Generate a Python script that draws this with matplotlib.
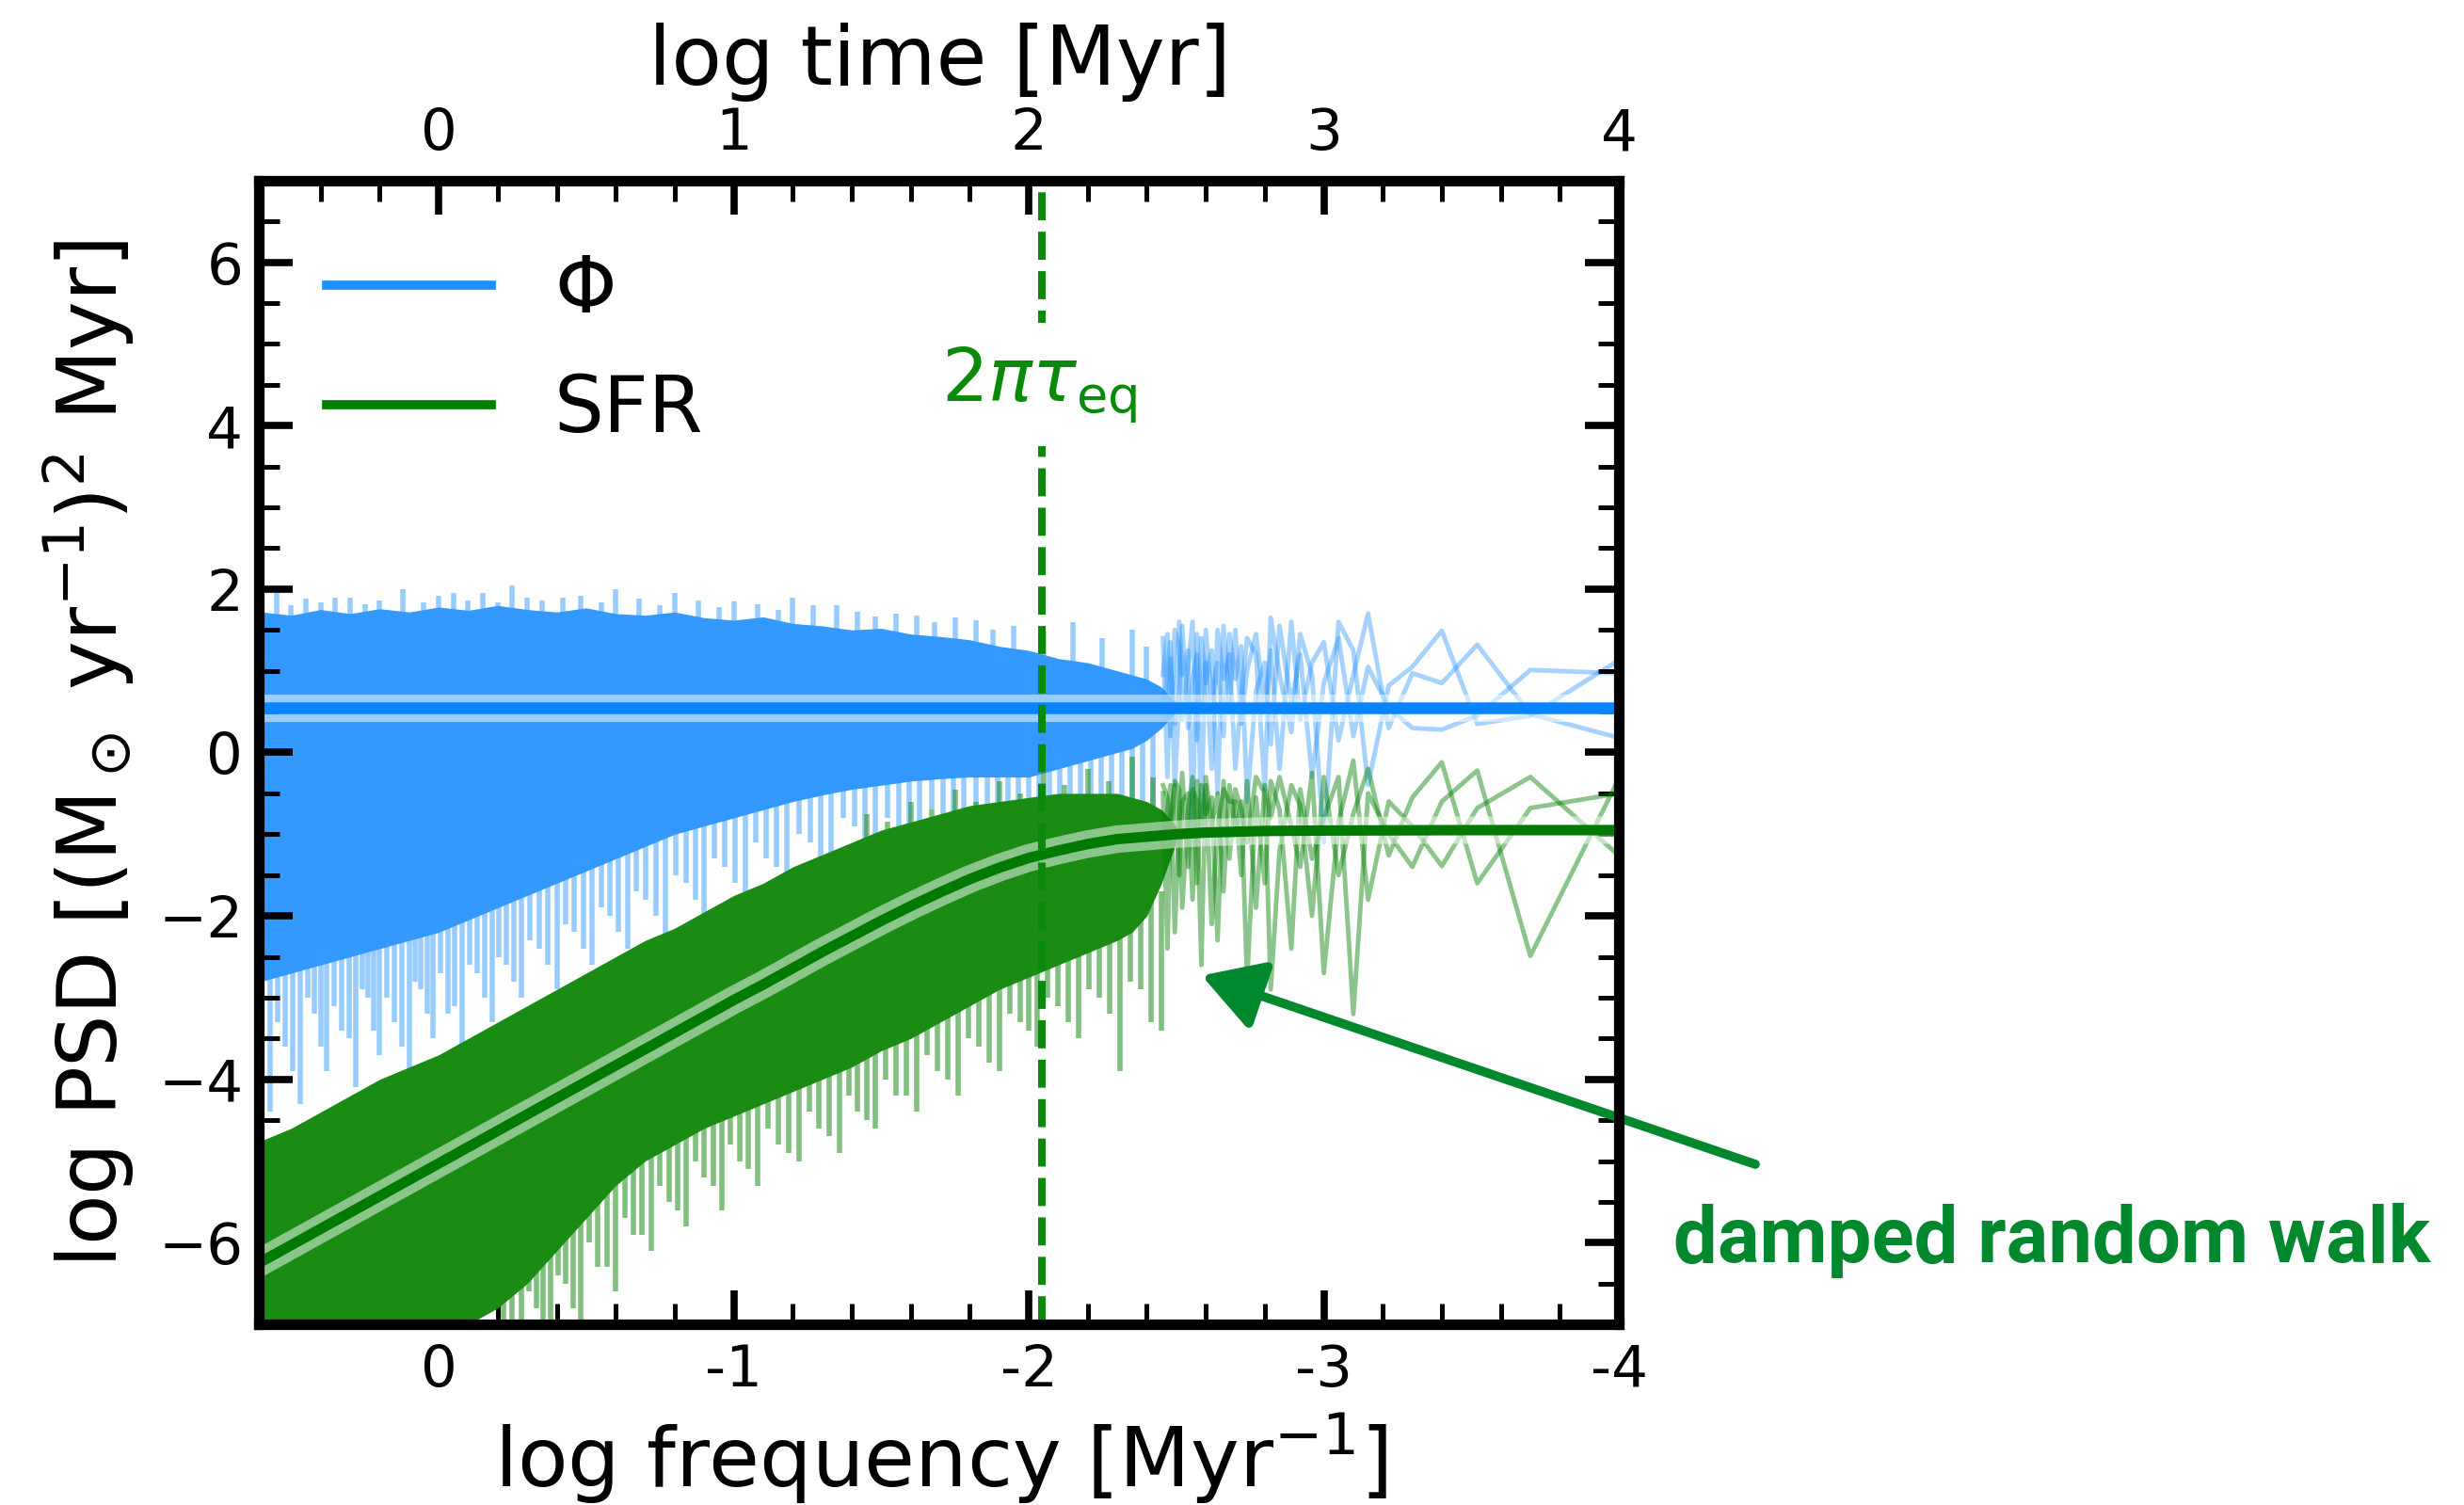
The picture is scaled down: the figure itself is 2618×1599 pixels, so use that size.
import numpy as np
import matplotlib.pyplot as plt
from matplotlib.ticker import MultipleLocator

# ---- data ----
# dense part of the periodograms: envelope of the many overlapping lines
env_x = [0.6, 0.5, 0.4, 0.3, 0.2, 0.1, 0.0, -0.1, -0.2, -0.3, -0.4, -0.5, -0.6, -0.7, -0.8, -0.9,
         -1.0, -1.1, -1.2, -1.3, -1.4, -1.5, -1.6, -1.7, -1.8, -1.9, -2.0, -2.1, -2.2, -2.3, -2.35,
         -2.4, -2.45, -2.5]
phi_top = [1.72, 1.68, 1.75, 1.70, 1.76, 1.72, 1.78, 1.74, 1.80, 1.75, 1.72, 1.77, 1.70, 1.68, 1.72, 1.65,
           1.62, 1.66, 1.58, 1.55, 1.50, 1.52, 1.45, 1.42, 1.38, 1.30, 1.25, 1.15, 1.10, 1.00, 0.95,
           0.90, 0.80, 0.60]
phi_low = [-2.8, -2.7, -2.6, -2.5, -2.4, -2.3, -2.2, -2.05, -1.9, -1.75, -1.6, -1.45, -1.3, -1.15, -1.0, -0.9,
           -0.8, -0.7, -0.6, -0.52, -0.45, -0.4, -0.35, -0.32, -0.3, -0.3, -0.3, -0.2, -0.1, 0.0, 0.05,
           0.15, 0.30, 0.50]
sfr_top = [-4.75, -4.6, -4.4, -4.2, -4.0, -3.85, -3.7, -3.5, -3.3, -3.1, -2.9, -2.7, -2.5, -2.3, -2.15, -1.95,
           -1.75, -1.6, -1.4, -1.25, -1.1, -0.95, -0.85, -0.75, -0.65, -0.6, -0.55, -0.5, -0.5, -0.5, -0.55,
           -0.6, -0.7, -0.9]
sfr_low = [-7.5, -7.5, -7.5, -7.4, -7.4, -7.3, -7.2, -7.0, -6.8, -6.5, -6.1, -5.7, -5.3, -5.0, -4.8, -4.6,
           -4.45, -4.3, -4.15, -4.0, -3.85, -3.65, -3.5, -3.3, -3.1, -2.9, -2.75, -2.6, -2.45, -2.3, -2.2,
           -2.0, -1.6, -1.1]

# downward spikes of the Phi periodogram (x, lowest value)
phi_spike_x = [0.57, 0.52, 0.47, 0.42, 0.38, 0.33, 0.28, 0.24, 0.20, 0.15, 0.10, 0.06, 0.02, -0.03, -0.08,
               -0.13, -0.18, -0.23, -0.28, -0.34, -0.40, -0.46, -0.52, -0.58, -0.64, -0.70, -0.77, -0.84,
               -0.90, -0.97, -1.04, -1.11, -1.18, -1.26, -1.33, -1.41, -1.48, -1.56, -1.63, -1.71, -1.78,
               -1.86, -1.93, -2.00, -2.07, -2.14, -2.21, -2.28, -2.35, -2.42,
               0.545, 0.495, 0.445, 0.40, 0.355, 0.305, 0.26, 0.22, 0.175, 0.125, 0.08, 0.04, -0.005,
               -0.055, -0.105, -0.155, -0.205, -0.255, -0.31, -0.37, -0.43, -0.49, -0.55, -0.61, -0.67,
               -0.735, -0.805, -0.87, -0.935, -1.005, -1.075, -1.145, -1.22, -1.295, -1.37, -1.445,
               -1.52, -1.595, -1.67, -1.745, -1.82, -1.895, -1.965, -2.035, -2.105, -2.175, -2.245,
               -2.315, -2.385]
phi_spike_lo = [-4.4, -3.6, -4.3, -3.2, -3.9, -3.4, -4.1, -3.0, -3.7, -3.3, -3.9, -2.9, -3.5, -3.2, -3.7,
                -2.7, -3.3, -2.6, -3.0, -2.4, -2.9, -2.2, -2.6, -2.0, -2.4, -1.8, -2.3, -1.6,
                -2.0, -1.4, -1.8, -1.3, -1.6, -1.1, -1.5, -0.9, -1.3, -0.9, -1.2, -0.8, -1.3,
                -0.9, -1.4, -1.0, -1.7, -1.1, -1.5, -0.9, -2.0, -1.0,
                -3.3, -3.9, -3.0, -3.6, -3.1, -3.5, -2.9, -3.4, -3.0, -3.6, -2.8, -3.2, -2.7,
                -3.1, -2.6, -3.0, -2.5, -2.8, -2.3, -2.6, -2.1, -2.4, -1.9, -2.2, -1.7,
                -2.0, -1.5, -1.8, -1.3, -1.6, -1.1, -1.4, -1.0, -1.3, -0.8, -1.1,
                -0.8, -1.0, -0.7, -1.1, -0.75, -1.2, -0.9, -1.3, -0.9, -1.4, -0.8,
                -1.6, -0.9]
# upward spikes of the Phi periodogram (x, highest value)
phi_up_x = [0.60, 0.55, 0.50, 0.45, 0.40, 0.35, 0.30, 0.25, 0.20, 0.12, 0.05, 0.0, -0.05, -0.10, -0.15,
            -0.20, -0.25, -0.30, -0.35, -0.42, -0.48, -0.55, -0.60, -0.68, -0.75, -0.80, -0.88, -0.95,
            -1.00, -1.08, -1.15, -1.20, -1.27, -1.35, -1.42, -1.48, -1.55, -1.62, -1.68, -1.75, -1.82,
            -1.88, -1.95, -2.05, -2.15, -2.25, -2.35, -2.40]
phi_up_hi = [1.85, 1.95, 1.80, 1.88, 1.84, 1.90, 1.90, 1.82, 1.86, 2.00, 1.84, 1.92, 1.95, 1.86, 1.95,
             1.84, 2.05, 1.90, 1.86, 1.90, 1.92, 1.84, 2.00, 1.88, 1.80, 1.95, 1.86, 1.78,
             1.85, 1.82, 1.74, 1.90, 1.80, 1.80, 1.72, 1.66, 1.70, 1.68, 1.60, 1.65, 1.62,
             1.50, 1.55, 1.48, 1.60, 1.40, 1.50, 1.30]

# downward spikes of the SFR periodogram (x, lowest value, top inside the dense band)
sfr_spike_x = [-0.22, -0.28, -0.33, -0.38, -0.43, -0.48, -0.54, -0.60, -0.66, -0.72, -0.78, -0.84, -0.90,
               -0.96, -1.02, -1.08, -1.15, -1.22, -1.29, -1.36, -1.42, -1.48, -1.55, -1.62, -1.69, -1.76,
               -1.83, -1.90, -1.97, -2.03, -2.10, -2.17, -2.24, -2.31, -2.38, -2.45,
               -0.25, -0.305, -0.355, -0.405, -0.455, -0.51, -0.57, -0.63, -0.69, -0.75, -0.81, -0.87,
               -0.93, -0.99, -1.05, -1.115, -1.185, -1.255, -1.325, -1.39, -1.45, -1.515, -1.585,
               -1.655, -1.725, -1.795, -1.865, -1.935, -2.0, -2.065, -2.135, -2.205, -2.275, -2.345, -2.415]
sfr_spike_lo = [-7.2, -7.3, -6.8, -7.2, -6.5, -7.1, -6.3, -6.6, -5.9, -6.1, -5.5, -5.8, -5.2,
                -5.6, -5.0, -5.3, -4.8, -5.0, -4.6, -4.9, -4.4, -4.6, -4.2, -4.4, -3.9, -4.2,
                -3.6, -3.9, -3.3, -3.6, -3.1, -3.5, -3.0, -3.9, -2.9, -3.4,
                -7.0, -6.6, -7.1, -6.4, -6.8, -6.0, -6.3, -5.7, -5.9, -5.3, -5.6, -5.0,
                -5.3, -4.8, -5.1, -4.6, -4.9, -4.4, -4.7, -4.2, -4.5, -4.0, -4.2,
                -3.7, -4.0, -3.5, -3.8, -3.2, -3.4, -3.0, -3.3, -2.9, -3.2, -2.8, -3.3]
sfr_spike_hi = [-6.35, -6.15, -6.0, -5.8, -5.6, -5.4, -5.1, -4.9, -4.7, -4.55, -4.45, -4.3, -4.2,
                -4.1, -4.0, -3.9, -3.8, -3.7, -3.6, -3.5, -3.4, -3.3, -3.2, -3.05, -2.9, -2.8,
                -2.6, -2.5, -2.4, -2.3, -2.2, -2.1, -2.0, -1.9, -1.8, -1.7,
                -6.25, -6.1, -5.9, -5.7, -5.5, -5.25, -5.0, -4.8, -4.6, -4.5, -4.4, -4.25,
                -4.15, -4.05, -3.95, -3.9, -3.75, -3.65, -3.55, -3.45, -3.35, -3.2, -3.1,
                -3.0, -2.85, -2.7, -2.55, -2.45, -2.35, -2.25, -2.15, -2.05, -1.95, -1.85, -1.75]
sfr_up_x = [-1.45, -1.52, -1.60, -1.67, -1.75, -1.82, -1.90, -1.97, -2.05, -2.12, -2.20, -2.27, -2.35, -2.42]
sfr_up_lo = [-1.5, -1.4, -1.3, -1.2, -1.1, -1.0, -1.0, -1.0, -0.9, -0.9, -0.9, -0.9, -0.9, -0.9]
sfr_up_hi = [-0.75, -0.85, -0.6, -0.7, -0.45, -0.6, -0.35, -0.5, -0.25, -0.4, -0.2, -0.35, -0.05, -0.3]

# lowest frequencies, where single realisations can be told apart
logf_sparse = [-4.0, -3.70, -3.52, -3.40, -3.30, -3.22, -3.15, -3.10, -3.05, -3.0,
               -2.96, -2.92, -2.89, -2.85, -2.82, -2.80, -2.77, -2.74, -2.72, -2.70,
               -2.68, -2.66, -2.64, -2.62, -2.60, -2.585, -2.57, -2.555, -2.54, -2.52,
               -2.51, -2.495, -2.48, -2.47, -2.455]
phi_r1 = [0.97, 1.01, 0.45, 0.28, 0.30, 0.55, 1.05, 0.20, 1.40, 0.85, -0.30, 1.20, 0.60, 1.55, 0.10, 1.10, 0.75, -0.60, 1.30, 0.90,
          1.45, 0.20, 1.10, 0.65, 1.50, -0.80, 1.20, 0.90, 0.30, 1.55, 0.70, -0.40, 1.35, 1.00, 0.45]
phi_r2 = [0.18, 0.47, 1.32, 0.85, 0.97, 0.30, 1.70, 0.95, 0.15, 1.35, 1.10, 0.40, 1.60, -0.20, 1.25, 0.55, 1.45, 1.00, 0.35, 1.50,
          0.60, 1.55, -0.50, 1.25, 0.85, 1.40, 0.15, 1.60, 1.05, 0.40, 1.30, 1.50, 0.20, 1.45, 0.95]
phi_r3 = [1.13, 0.45, 0.35, 1.49, 1.05, 0.82, -0.40, 1.25, 1.60, -1.10, 0.95, 1.45, 0.25, 0.95, 1.65, -0.45, 1.20, 1.40, 0.70, -0.20,
          1.20, 0.90, 1.50, -0.20, 1.10, 0.55, 1.45, -0.90, 1.25, 0.95, 1.60, 0.35, 1.15, -0.30, 1.40]
sfr_r1 = [-0.32, -2.49, -0.22, -0.60, -1.40, -1.00, -0.50, -3.20, -0.30, -0.80, -1.30, -0.45, -2.40, -0.70, -0.35, -1.60, -0.55, -2.80, -0.60, -1.00,
          -0.40, -1.70, -0.50, -0.90, -0.30, -2.60, -0.60, -0.45, -1.40, -0.25, -0.85, -2.20, -0.40, -0.70, -1.10]
sfr_r2 = [-0.50, -0.68, -1.60, -0.12, -0.55, -1.26, -0.20, -0.75, -1.50, -0.30, -2.00, -0.65, -0.40, -1.20, -2.90, -0.50, -0.30, -1.10, -0.70, -0.45,
          -1.30, -0.35, -2.30, -0.55, -0.75, -0.40, -1.60, -0.30, -0.70, -1.90, -0.45, -0.35, -1.20, -0.55, -0.40]
sfr_r3 = [-1.26, -0.30, -0.68, -1.39, -0.90, -0.60, -1.80, -0.10, -0.85, -2.70, -0.25, -1.40, -0.90, -0.30, -0.80, -0.40, -1.90, -0.35, -1.50, -0.60,
          -0.60, -0.45, -0.90, -2.10, -0.40, -0.95, -0.35, -1.80, -0.50, -0.60, -1.50, -0.40, -0.80, -2.40, -0.50]

# model curves
phi_model_x = [0.61, -4.0]
phi_model_y = [0.55, 0.55]
drw_x = [0.61, 0.0, -0.5, -1.0, -1.1, -1.2, -1.3, -1.4, -1.5, -1.6, -1.7, -1.8, -1.9, -2.0,
         -2.1, -2.2, -2.3, -2.4, -2.5, -2.6, -2.7, -2.8, -3.0, -3.5, -4.0]
drw_y = [-6.25, -5.03, -4.03, -3.03, -2.84, -2.64, -2.44, -2.25, -2.06, -1.88, -1.71, -1.55, -1.41, -1.29,
         -1.20, -1.12, -1.06, -1.03, -1.00, -0.98, -0.97, -0.96, -0.955, -0.95, -0.95]
tau_line = -2.045

xticks = [0, -1, -2, -3, -4]
xtick_labels = ['0', '-1', '-2', '-3', '-4']
top_labels = ['0', '1', '2', '3', '4']

blue_fill = '#3399ff'
blue_line = '#0a84ff'
green_fill = '#1a8c14'
green_line = '#007a00'
note_green = '#00882e'

fig = plt.figure(figsize=(26.18, 15.99), dpi=100)
ax = fig.add_axes([0.105, 0.120, 0.552, 0.760])

# Phi periodograms
ax.vlines(phi_spike_x, phi_spike_lo, 0.5, color=blue_fill, alpha=0.5, lw=4, zorder=0.9)
ax.vlines(phi_up_x, 0.8, phi_up_hi, color=blue_fill, alpha=0.5, lw=4, zorder=0.9)
ax.fill_between(env_x, phi_low, phi_top, color=blue_fill, lw=0, zorder=1)
for r in [phi_r1, phi_r2, phi_r3]:
    ax.plot(logf_sparse, r, color='dodgerblue', alpha=0.4, lw=3.5, zorder=1)

# SFR periodograms
ax.vlines(sfr_spike_x, sfr_spike_lo, sfr_spike_hi, color=green_fill, alpha=0.55, lw=4, zorder=1.9)
ax.vlines(sfr_up_x, sfr_up_lo, sfr_up_hi, color=green_fill, alpha=0.55, lw=4, zorder=1.9)
ax.fill_between(env_x, sfr_low, sfr_top, color=green_fill, lw=0, zorder=2)
for r in [sfr_r1, sfr_r2, sfr_r3]:
    ax.plot(logf_sparse, r, color='green', alpha=0.45, lw=3.5, zorder=2)

# models
ax.plot(phi_model_x, phi_model_y, color='white', alpha=0.5, lw=21, solid_capstyle='butt', zorder=3)
ax.plot(phi_model_x, phi_model_y, color=blue_line, lw=9, solid_capstyle='butt', zorder=3.1)
ax.plot(drw_x, drw_y, color='white', alpha=0.5, lw=21, zorder=3.2)
ax.plot(drw_x, drw_y, color=green_line, lw=8, zorder=3.3)

ax.axvline(tau_line, color='#0a8a0a', lw=5.8, dashes=(3.7, 1.5), zorder=4)
ax.text(-2.035, 4.5, r'$2\pi\tau_{\rm eq}$', color='#0a8a0a', fontsize=56, ha='center', va='center',
        zorder=5, bbox=dict(fc='white', ec='none', pad=16))

# legend handles
ax.plot([], [], color='dodgerblue', lw=7, label=r'$\Phi$')
ax.plot([], [], color='green', lw=7, label='SFR')
ax.legend(loc='upper left', bbox_to_anchor=(0.05, 0.937), frameon=False, fontsize=60,
          handlelength=2.1, handletextpad=0.8, labelspacing=0.55, borderpad=0, borderaxespad=0)

ax.set_xlim(0.61, -4.0)
ax.set_ylim(-7, 7)
ax.set_xticks(xticks)
ax.set_xticklabels(xtick_labels)
ax.xaxis.set_minor_locator(MultipleLocator(0.2))
ax.yaxis.set_major_locator(MultipleLocator(2))
ax.yaxis.set_minor_locator(MultipleLocator(0.5))

ax2 = ax.twiny()
ax2.set_xlim(ax.get_xlim())
ax2.set_xticks(xticks)
ax2.set_xticklabels(top_labels)
ax2.xaxis.set_minor_locator(MultipleLocator(0.2))

for a in [ax, ax2]:
    a.tick_params(which='major', direction='in', length=26, width=5.5, labelsize=44, pad=14)
    a.tick_params(which='minor', direction='in', length=16, width=3.6)
    for s in a.spines.values():
        s.set_linewidth(8)
ax.tick_params(which='both', right=True, top=False)
ax.tick_params(axis='y', pad=12)

fig.text(1000 / 2618, 1 - 1550 / 1599, r'log frequency [Myr$^{-1}$]', fontsize=63, ha='center', va='center')
fig.text(998 / 2618, 1 - 66 / 1599, 'log time [Myr]', fontsize=63, ha='center', va='center')
fig.text(94 / 2618, 1 - 801 / 1599, r'log PSD [(M$_\odot$ yr$^{-1}$)$^2$ Myr]', fontsize=63,
         ha='center', va='center', rotation=90)

# annotation
ax.annotate('', xy=(-2.586, -2.73), xycoords='data', xytext=(1865, 1599 - 1237), textcoords='figure pixels',
            annotation_clip=False,
            arrowprops=dict(arrowstyle='-|>,head_length=0.65,head_width=0.38', color=note_green, lw=7,
                            mutation_scale=60, shrinkA=0, shrinkB=0))
fig.text(1778 / 2618, 1 - 1341 / 1599, 'damped random walk', fontsize=60, fontfamily='Roboto',
         fontweight='bold', color=note_green, ha='left', va='baseline')

fig.savefig('out.png', dpi=100)
